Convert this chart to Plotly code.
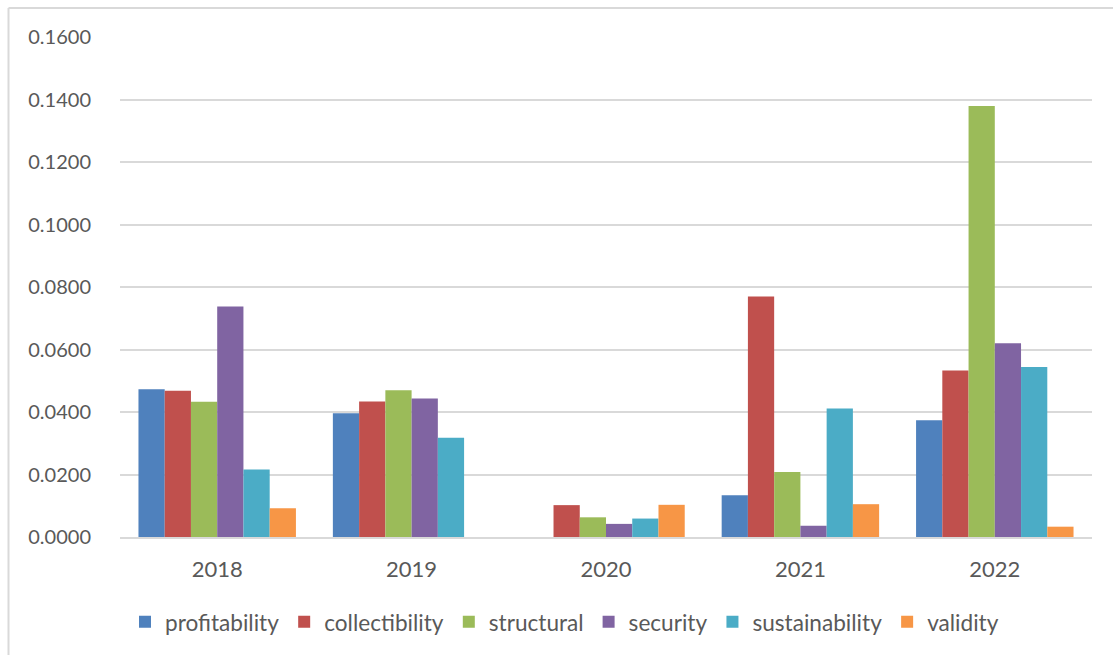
import plotly.graph_objects as go

years = ["2018", "2019", "2020", "2021", "2022"]
series_names = ["profitability", "collectibility", "structural", "security", "sustainability", "validity"]
profitability = [0.0473, 0.0396, 0.0, 0.0134, 0.0374]
collectibility = [0.0468, 0.0434, 0.0102, 0.0770, 0.0533]
structural = [0.0433, 0.0470, 0.0063, 0.0208, 0.1379]
security = [0.0738, 0.0443, 0.0042, 0.0036, 0.0620]
sustainability = [0.0216, 0.0318, 0.0059, 0.0411, 0.0544]
validity = [0.0092, 0.0, 0.0103, 0.0105, 0.0033]
colors = ["#4F81BD", "#C0504D", "#9BBB59", "#8064A2", "#4BACC6", "#F79646"]
y_ticks = [0, 0.02, 0.04, 0.06, 0.08, 0.10, 0.12, 0.14, 0.16]

values = [profitability, collectibility, structural, security, sustainability, validity]

font_family = "Lato, 'Open Sans', sans-serif"
fig = go.Figure()
for name, vals, col in zip(series_names, values, colors):
    fig.add_trace(go.Bar(
        x=years, y=vals, name=name,
        marker=dict(color=col, line=dict(width=0)),
    ))

fig.update_layout(
    width=1113, height=655,
    margin=dict(l=120, r=21, t=37, b=118, autoexpand=False),
    paper_bgcolor="white", plot_bgcolor="white",
    barmode="group", bargap=0.19, bargroupgap=0,
    font=dict(family=font_family, size=20, color="#595959"),
    showlegend=True,
    legend=dict(
        orientation="h", x=(125 - 120) / 972, xanchor="left", y=-0.17, yanchor="middle",
        font=dict(family=font_family, size=22.6, color="#595959"),
        itemwidth=30, traceorder="normal",
    ),
    xaxis=dict(
        type="category", showgrid=False, showline=True, linecolor="#D9D9D9", linewidth=2,
        ticks="", tickfont=dict(family=font_family, size=22, color="#595959"),
        zeroline=False, ticklabelstandoff=12,
    ),
    yaxis=dict(
        range=[0, 0.16], tickvals=y_ticks, tickformat=".4f",
        showgrid=True, gridcolor="#D9D9D9", gridwidth=2,
        zeroline=False, showline=False, ticks="",
        tickfont=dict(family=font_family, size=20, color="#595959"),
        ticklabelstandoff=28,
    ),
    shapes=[
        dict(type="line", xref="paper", yref="paper",
             x0=(8.5 - 120) / 972, x1=(1120 - 120) / 972,
             y0=(537 - 8) / 500, y1=(537 - 8) / 500,
             line=dict(color="#D9D9D9", width=2)),
        dict(type="line", xref="paper", yref="paper",
             x0=(8.5 - 120) / 972, x1=(8.5 - 120) / 972,
             y0=(537 - 8) / 500, y1=(537 - 670) / 500,
             line=dict(color="#D9D9D9", width=2)),
    ],
)

fig.write_html("out.html")
